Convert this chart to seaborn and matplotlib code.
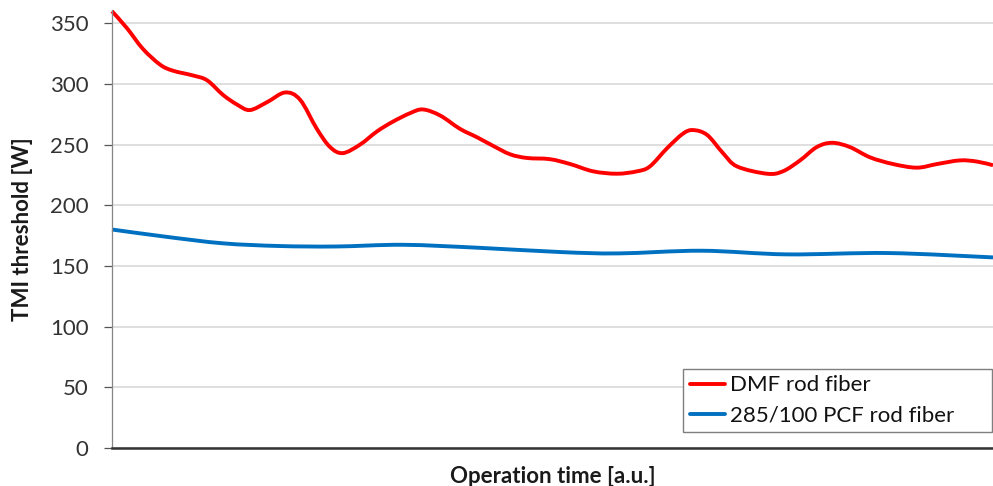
import matplotlib
matplotlib.use("Agg")
import matplotlib.pyplot as plt
import numpy as np
import pandas as pd
import seaborn as sns
from matplotlib.path import Path
from matplotlib.patches import PathPatch

# operation time in arbitrary units
dmf_time = [0.0, 0.34, 0.70, 1.09, 1.38, 1.84, 2.16, 2.52, 2.84, 3.13, 3.52, 3.93, 4.27, 4.65,
            4.95, 5.24, 5.63, 6.02, 6.38, 6.77, 7.06, 7.45, 7.90, 8.29, 8.65, 9.04, 9.42, 9.94,
            10.40, 10.92, 11.46, 11.92, 12.21, 12.60, 12.96, 13.19, 13.51, 13.87, 14.19, 14.87,
            15.23, 15.62, 16.00, 16.35, 16.75, 17.21, 17.73, 18.27, 18.73, 19.25, 19.64, 20.0]
dmf_tmi = [360, 346, 329, 316, 311, 307, 303, 291, 283, 278.5, 285, 293, 287, 263,
           248, 243, 250, 261, 269, 276, 279, 274, 263, 256, 249, 242, 239, 238,
           234, 228, 226, 228, 232, 247, 259, 262, 258, 243, 232, 226,
           228, 237, 248, 251.5, 248, 239.5, 234, 231, 234, 237, 236, 233]

pcf_time = [0.0, 1.23, 2.52, 3.79, 5.08, 6.61, 8.29, 10.19, 11.49, 13.39, 15.32, 17.62, 20.0]
pcf_tmi = [180, 174, 168.6, 166.4, 166, 167.4, 165, 161.4, 160.3, 162.5, 159.5, 160.6, 157]

labels = ['DMF rod fiber', '285/100 PCF rod fiber']
colors = ['#FF0000', '#0070C0']

df = pd.concat([
    pd.DataFrame({'time': dmf_time, 'tmi': dmf_tmi, 'fiber': labels[0]}),
    pd.DataFrame({'time': pcf_time, 'tmi': pcf_tmi, 'fiber': labels[1]}),
])


def smooth_path(xy):
    # Excel-like "smoothed line": Catmull-Rom segments as cubic Bezier curves
    p = np.vstack([xy[0], xy, xy[-1]])
    verts = [p[1]]
    codes = [Path.MOVETO]
    for i in range(1, len(p) - 2):
        c1 = p[i] + (p[i + 1] - p[i - 1]) / 6.0
        c2 = p[i + 1] - (p[i + 2] - p[i]) / 6.0
        verts += [c1, c2, p[i + 1]]
        codes += [Path.CURVE4] * 3
    return Path(verts, codes)


sns.set_theme(style='white')
plt.rcParams['font.family'] = ['Lato', 'DejaVu Sans']

fig = plt.figure(figsize=(9.93, 4.86), dpi=100)
ax = fig.add_axes([0.1128, 0.0786, 0.8872, 0.9008])

sns.lineplot(data=df, x='time', y='tmi', hue='fiber', palette=colors, sort=False,
             linewidth=2.8, ax=ax, legend=True)
for line in ax.get_lines():
    xy = line.get_xydata()
    if len(xy) < 2:
        continue
    patch = PathPatch(smooth_path(xy), facecolor='none', edgecolor=line.get_color(),
                      linewidth=line.get_linewidth(), capstyle='butt', joinstyle='round',
                      clip_on=False, zorder=line.get_zorder())
    ax.add_patch(patch)
    line.set_visible(False)

ax.set_xlim(0, 20)
ax.set_ylim(0, 361)
ax.set_yticks(range(0, 351, 50))
ax.set_xticks([])
ax.yaxis.grid(True, color='#d9d9d9', linewidth=1.2)
ax.set_axisbelow(True)

for s in ['top', 'right']:
    ax.spines[s].set_visible(False)
ax.spines['left'].set_color('#868686')
ax.spines['left'].set_linewidth(0.9)
ax.spines['bottom'].set_color('#333333')
ax.spines['bottom'].set_linewidth(1.8)
ax.spines['bottom'].set_zorder(5)

ax.tick_params(axis='y', left=True, length=6, width=0.9, color='#555555',
               pad=11, labelsize=16, labelcolor='#333333')

ax.set_xlabel('Operation time [a.u.]', fontsize=16, fontweight='bold', color='#1a1a1a', labelpad=13)
ax.set_ylabel('TMI threshold [W]', fontsize=16, fontweight='bold', color='#1a1a1a', labelpad=12)

handles, _ = ax.get_legend_handles_labels()
for h in handles:
    h.set_visible(True)
leg = ax.legend(handles, labels, loc='lower left', bbox_to_anchor=(0.648, 0.036, 0.351, 0.169),
                mode='expand', borderaxespad=0, fontsize=16, frameon=True, fancybox=False,
                handlelength=1.6, handletextpad=0.2, labelspacing=0.45, borderpad=0.3,
                edgecolor='#7f7f7f', facecolor='white', framealpha=1)
leg.get_frame().set_linewidth(1.0)
for lh in leg.get_lines():
    lh.set_visible(True)
for t in leg.get_texts():
    t.set_color('#111111')

fig.savefig('out.png', dpi=100)
